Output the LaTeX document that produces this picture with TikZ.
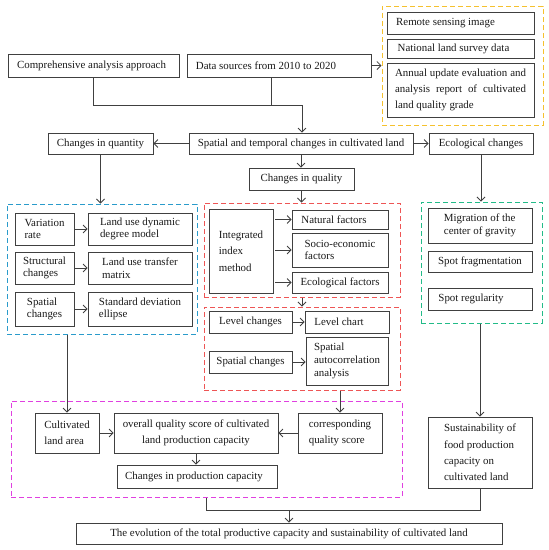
\documentclass[tikz,border=0pt]{standalone}
\usepackage{fontspec}
\setmainfont{Liberation Serif}
\usetikzlibrary{arrows.meta}

\definecolor{frmyellow}{HTML}{F5C12E}
\definecolor{frmblue}{HTML}{2A9BCB}
\definecolor{frmred}{HTML}{EE5555}
\definecolor{frmgreen}{HTML}{22BB88}
\definecolor{frmpink}{HTML}{E040E0}

\tikzset{
  box/.style={draw=black!75, line width=0.8pt, inner sep=0pt, align=left, text=black!90},
  wide/.style={font=\fontsize{10.9}{16.3}\selectfont},
  frm/.style={draw=#1, dash pattern=on 5pt off 3pt, line width=1pt, inner sep=0pt},
  ln/.style={draw=black!75, line width=0.8pt},
  arr/.style={ln, -{Straight Barb[length=4pt,width=8pt]}},
}

\begin{document}
\begin{tikzpicture}[x=1pt, y=-1pt, font=\fontsize{10.9}{12.7}\selectfont]
    \useasboundingbox (0,0) rectangle (549,550);
    % dashed groups
    \node[frm=frmyellow, minimum width=161pt, minimum height=119pt] (srcfrm) at (462.5,65.5) {};
    \node[frm=frmblue, minimum width=190pt, minimum height=130pt] (qfrm) at (102,269) {};
    \node[frm=frmred, minimum width=196pt, minimum height=94pt] (rfrmA) at (302,250) {};
    \node[frm=frmred, minimum width=196pt, minimum height=83pt] (rfrmB) at (302,348.5) {};
    \node[frm=frmgreen, minimum width=121pt, minimum height=121pt] (gfrm) at (481.5,262.5) {};
    \node[frm=frmpink, minimum width=391pt, minimum height=96pt] (mfrm) at (206.5,449) {};
    % top
    \node[box, minimum width=171pt, minimum height=23pt] (comp) at (93.5,65.5) {\hspace*{-4pt}Comprehensive analysis approach};
    \node[box, minimum width=184pt, minimum height=23pt] (data) at (279,65.5) {\hspace*{-26pt}Data sources from 2010 to 2020};
    \node[box, minimum width=147pt, minimum height=22pt] (rse) at (460.5,23) {\hspace*{-30pt}Remote sensing image};
    \node[box, minimum width=147pt, minimum height=19pt] (nls) at (460.5,48.5) {\hspace*{-14pt}National land survey data};
    \node[box, inner xsep=8pt, text width=131pt, minimum height=54pt, align=justify, font=\fontsize{10.9}{15.8}\selectfont] (anu) at (460.5,90)
      {Annual update evaluation and analysis report of cultivated land quality grade};
    \node[box, minimum width=224pt, minimum height=21pt] (spt) at (301,143.5) {Spatial and temporal changes in cultivated land};
    \node[box, minimum width=105pt, minimum height=21pt] (qty) at (100.5,143.5) {Changes in quantity};
    \node[box, minimum width=104pt, minimum height=21pt] (eco) at (481,143.5) {Ecological changes};
    \node[box, minimum width=105pt, minimum height=22pt] (qual) at (301.5,179) {Changes in quality};
    % quantity
    \node[box, minimum width=59pt, minimum height=32pt] (var) at (44.5,229) {Variation\\rate};
    \node[box, minimum width=104pt, minimum height=32pt] (ludd) at (140,229) {Land use dynamic\\degree model};
    \node[box, minimum width=59pt, minimum height=32pt] (str) at (44.5,268) {Structural\\changes};
    \node[box, minimum width=104pt, minimum height=32pt] (ltm) at (140,268) {Land use transfer\\matrix};
    \node[box, minimum width=59pt, minimum height=34pt] (spq) at (44.5,309) {Spatial\\changes};
    \node[box, minimum width=104pt, minimum height=34pt] (sde) at (140,309) {Standard deviation\\ellipse};
    % quality
    \node[box, wide, minimum width=64pt, minimum height=84pt] (int) at (241,251) {Integrated\\index\\method};
    \node[box, minimum width=96pt, minimum height=19pt] (nat) at (340,219.5) {\hspace*{-12pt}Natural factors};
    \node[box, minimum width=96pt, minimum height=34pt] (soc) at (340,250) {Socio-economic\\factors};
    \node[box, minimum width=96pt, minimum height=21pt] (ecf) at (340,282.5) {Ecological factors};
    \node[box, minimum width=83pt, minimum height=22pt] (lvl) at (250.5,322) {Level changes};
    \node[box, minimum width=84pt, minimum height=22pt] (lch) at (347,322) {\hspace*{-16pt}Level chart};
    \node[box, minimum width=83pt, minimum height=22pt] (spr) at (250.5,362) {Spatial changes};
    \node[box, minimum width=82pt, minimum height=48pt] (aut) at (347,361) {Spatial\\autocorrelation\\analysis};
    % ecology
    \node[box, minimum width=104pt, minimum height=35pt] (mig) at (480,225.5) {Migration of the\\center of gravity};
    \node[box, minimum width=104pt, minimum height=21pt] (spf) at (480,261.5) {Spot fragmentation};
    \node[box, minimum width=104pt, minimum height=22pt] (sreg) at (480,299) {\hspace*{-18pt}Spot regularity};
    % capacity
    \node[box, wide, minimum width=64pt, minimum height=40pt] (cla) at (67,433) {Cultivated\\land area};
    \node[box, wide, align=center, minimum width=164pt, minimum height=40pt] (ovr) at (196,433) {overall quality score of cultivated\\land production capacity};
    \node[box, wide, minimum width=84pt, minimum height=40pt] (cor) at (340,433) {corresponding\\quality score};
    \node[box, minimum width=160pt, minimum height=23pt] (pcc) at (197,476.5) {\hspace*{-6pt}Changes in production capacity};
    \node[box, wide, minimum width=104pt, minimum height=71pt] (sus) at (480,452.5) {Sustainability of\\food production\\capacity on\\cultivated land};
    \node[box, minimum width=426pt, minimum height=21pt] (fin) at (289,533.5) {The evolution of the total productive capacity and sustainability of cultivated land};
    % connectors
    \coordinate (jn) at (302,105);
    \coordinate (jd) at (271,105);
    \coordinate (jf) at (289,510);
    \draw[ln] (comp.south) |- (jn);
    \draw[ln] (jd |- data.south) -- (jd);
    \draw[arr] (jn) -- (jn |- spt.north);
    \draw[arr] (data) -- (data -| srcfrm.west);
    \draw[arr] (spt) -- (qty);
    \draw[arr] (spt) -- (eco);
    \draw[arr] (spt.south) -- (spt.south |- qual.north);
    \draw[arr] (qty.south) -- (qty.south |- qfrm.north);
    \draw[arr] (qual.south) -- (qual.south |- rfrmA.north);
    \draw[arr] (eco.south) -- (eco.south |- gfrm.north);
    \draw[arr] (var) -- (ludd);
    \draw[arr] (str) -- (ltm);
    \draw[arr] (spq) -- (sde);
    \foreach \n in {nat,soc,ecf}
      \draw[arr] ([xshift=2pt]int.east |- \n) -- (\n);
    \draw[arr] (rfrmA.south) -- (rfrmB.north);
    \draw[arr] (lvl) -- (lch);
    \draw[arr] (spr) -- (spr -| aut.west);
    \draw[arr] (cla.north |- qfrm.south) -- (cla.north);
    \draw[arr] (cor.north |- rfrmB.south) -- (cor.north);
    \draw[arr] (cla) -- (ovr);
    \draw[arr] (cor) -- (ovr);
    \draw[arr] (ovr.south) -- (ovr.south |- pcc.north);
    \draw[arr] (sus.north |- gfrm.south) -- (sus.north);
    \draw[ln] (mfrm.south) |- (sus.south |- jf) -- (sus.south);
    \draw[arr] (jf) -- (fin);
\end{tikzpicture}
\end{document}
